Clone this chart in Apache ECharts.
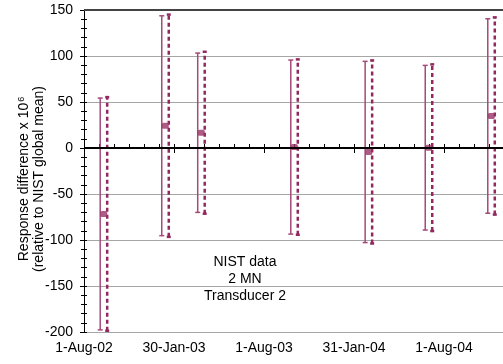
<!DOCTYPE html>
<html><head><meta charset="utf-8">
<script src="https://cdn.jsdelivr.net/npm/echarts@6/dist/echarts.min.js"></script>
<style>html,body{margin:0;padding:0;background:#fff}#c{width:503px;height:364px}</style>
</head><body><div id="c"></div>
<script>
// ---- data ----
const tickLabels = ['1-Aug-02', '30-Jan-03', '1-Aug-03', '31-Jan-04', '1-Aug-04'];
const axisStart = '2002-08-01';
const tickStepDays = 182.75;
const dates = ['2002-09-10', '2003-01-13', '2003-03-27', '2003-10-02', '2004-03-01', '2004-07-01', '2004-11-05'];
const values = [-71.7, 24.2, 16.6, 1.0, -4.3, 0.3, 34.8];
const solidErr = [126, 119.5, 86.6, 94.6, 98.5, 89.5, 105.7];
const dashedErr = [127, 120.8, 88, 95.3, 99.5, 90.6, 107.2];
const yMin = -200, yMax = 150, yStep = 50;
const boxLines = ['NIST data', '2 MN', 'Transducer 2'];
const yTitle = ['Response difference x 10', '6', '(relative to NIST global mean)'];

// ---- build ----
const dayOf = d => (Date.parse(d) - Date.parse(axisStart)) / 86400000;
const xs = dates.map(dayOf);
const pts = xs.map((x, i) => [x, values[i]]);
const solidData = xs.map((x, i) => [x, values[i] - solidErr[i], values[i] + solidErr[i]]);
const dashedData = xs.map((x, i) => [x, values[i] - dashedErr[i], values[i] + dashedErr[i]]);
const color = '#993366';
const FONT = 'Liberation Sans, Arial, sans-serif';

function makeErr(shift, dash, width, cap, stroke) {
  return function (params, api) {
    const x = api.value(0), lo = api.value(1), hi = api.value(2);
    const pLo = api.coord([x, lo]), pHi = api.coord([x, hi]);
    const px = pLo[0] + shift;
    return {
      type: 'group', children: [
        { type: 'line', shape: { x1: px, y1: pLo[1], x2: px, y2: pHi[1] }, style: { stroke, lineWidth: width, lineDash: dash } },
        { type: 'line', shape: { x1: px - cap, y1: pHi[1], x2: px + cap, y2: pHi[1] }, style: { stroke, lineWidth: width } },
        { type: 'line', shape: { x1: px - cap, y1: pLo[1], x2: px + cap, y2: pLo[1] }, style: { stroke, lineWidth: width } }
      ]
    };
  };
}

const xMax = tickStepDays * 5;
const xBase = {
  type: 'value', min: 0, max: xMax, interval: tickStepDays, gridIndex: 0,
  splitLine: { show: false }
};
const yBase = {
  type: 'value', min: yMin, max: yMax, interval: yStep, gridIndex: 0
};

const option = {
  animation: false,
  backgroundColor: '#fff',
  textStyle: { fontFamily: FONT },
  grid: { left: 84, top: 10, bottom: 32, right: -31, containLabel: false, outerBoundsMode: 'none' },
  xAxis: [
    Object.assign({}, xBase, {
      position: 'bottom',
      axisLine: { show: true, lineStyle: { color: '#000', width: 1 } },
      axisTick: { show: true, inside: true, length: 4, lineStyle: { color: '#000' } },
      minorTick: { show: true, splitNumber: 6, length: 4, lineStyle: { color: '#000' } },
      axisLabel: {
        show: true, color: '#000', fontSize: 14, fontFamily: FONT, margin: 9,
        showMaxLabel: false,
        formatter: v => { const i = Math.round(v / tickStepDays); return tickLabels[i] || ''; }
      }
    }),
    Object.assign({}, xBase, {
      position: 'bottom',
      axisLine: { show: false },
      axisTick: { show: true, inside: false, length: 5, lineStyle: { color: '#000' } },
      axisLabel: { show: false }
    })
  ],
  yAxis: [
    Object.assign({}, yBase, {
      position: 'left',
      axisLine: { show: true, lineStyle: { color: '#000', width: 1 } },
      axisTick: { show: true, inside: false, length: 4, lineStyle: { color: '#000' } },
      minorTick: { show: true, splitNumber: 5, length: 3, lineStyle: { color: '#000' } },
      splitLine: { show: true, lineStyle: { color: '#a6a6a6', width: 1 } },
      axisLabel: { color: '#000', fontSize: 14, fontFamily: FONT, margin: 11 }
    }),
    Object.assign({}, yBase, {
      position: 'left',
      axisLine: { show: false },
      axisTick: { show: true, inside: true, length: 3, lineStyle: { color: '#000' } },
      minorTick: { show: true, splitNumber: 5, length: 3, lineStyle: { color: '#000' } },
      splitLine: { show: false },
      axisLabel: { show: false }
    })
  ],
  series: [
    {
      type: 'custom', name: 'solid', xAxisIndex: 0, yAxisIndex: 0,
      renderItem: makeErr(-3.5, null, 1.5, 2.5, '#a34a7a'),
      encode: { x: 0, y: [1, 2] }, data: solidData, z: 3
    },
    {
      type: 'custom', name: 'dashed', xAxisIndex: 0, yAxisIndex: 0,
      renderItem: makeErr(3.5, [4, 3], 2.5, 2, '#93285e'),
      encode: { x: 0, y: [1, 2] }, data: dashedData, z: 3
    },
    {
      type: 'scatter', name: 'value', xAxisIndex: 0, yAxisIndex: 0,
      symbol: 'roundRect', symbolSize: [7, 6],
      itemStyle: { color: color },
      data: pts, z: 4,
      markLine: {
        silent: true, symbol: 'none', label: { show: false },
        data: [
          { yAxis: 0, lineStyle: { color: '#000', width: 2, type: 'solid' } },
          { yAxis: 150, lineStyle: { color: '#444', width: 2, type: 'solid' } }
        ]
      }
    }
  ],
  graphic: [
    {
      type: 'group', z: 100, left: 196, top: 250,
      children: [
        { type: 'rect', shape: { x: 0, y: 0, width: 98, height: 56 }, style: { fill: '#fff' } },
        { type: 'text', x: 49, y: 4, style: { text: boxLines.join('\n'), font: '14px ' + FONT, fill: '#000', textAlign: 'center', lineHeight: 17 } }
      ]
    },
    {
      type: 'text', z: 100, x: 32, y: 179, rotation: Math.PI / 2,
      style: {
        text: '{t|' + yTitle[0] + '}{s|' + yTitle[1] + '}\n{t|' + yTitle[2] + '}',
        textAlign: 'center', textVerticalAlign: 'middle',
        rich: {
          t: { fontSize: 14, fontFamily: FONT, fill: '#000', lineHeight: 15 },
          s: { fontSize: 9, fontFamily: FONT, fill: '#000', verticalAlign: 'top', lineHeight: 15, padding: [0, 0, 6, 1] }
        }
      }
    }
  ]
};

const chart = echarts.init(document.getElementById('c'), null, { renderer: 'canvas' });
chart.setOption(option);
</script>
</body></html>
